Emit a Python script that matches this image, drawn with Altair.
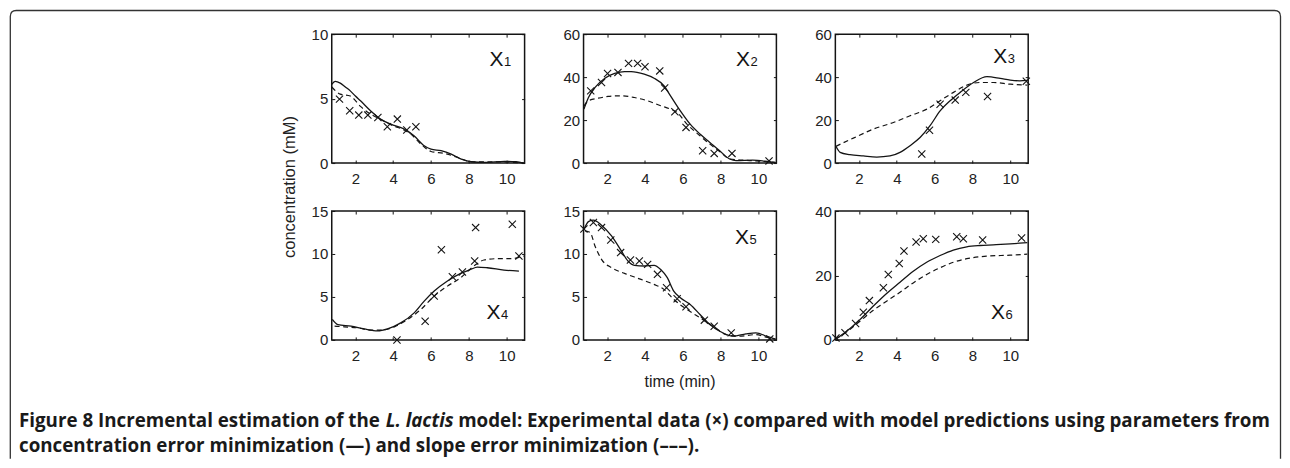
import altair as alt
import pandas as pd

# ---------------- data ----------------
t_domain = [0.75, 10.95]
x_ticks = [2, 4, 6, 8, 10]

# X1
x1_exp_t = [1.16, 1.70, 2.18, 2.66, 3.19, 3.69, 4.22, 4.72, 5.20]
x1_exp_c = [4.96, 4.06, 3.72, 3.72, 3.54, 2.82, 3.41, 2.56, 2.82]
x1_sol_t = [0.75, 0.93, 1.20, 1.47, 1.73, 2.00, 2.27, 2.80, 3.33, 3.87, 4.58, 5.10, 5.64, 6.00, 6.53, 7.07, 7.60, 8.13, 8.84, 9.90, 10.50, 10.90]
x1_sol_c = [6.10, 6.33, 6.20, 5.90, 5.60, 5.20, 4.83, 4.06, 3.41, 3.02, 2.64, 2.12, 1.34, 1.08, 0.96, 0.70, 0.31, 0.10, 0.05, 0.13, 0.10, 0.00]
x1_dash_t = [0.75, 1.20, 1.73, 2.27, 2.80, 3.33, 3.87, 4.58, 4.93, 5.47, 6.00, 6.70, 7.40, 8.13, 9.90, 10.90]
x1_dash_c = [5.90, 5.35, 5.20, 4.40, 3.80, 3.40, 2.97, 2.56, 2.25, 1.47, 0.90, 0.75, 0.44, 0.10, 0.08, 0.00]

# X2
x2_exp_t = [1.13, 1.70, 2.02, 2.57, 3.13, 3.61, 4.00, 4.78, 5.04, 5.58, 6.17, 7.05, 7.66, 8.60, 10.56]
x2_exp_c = [33.6, 37.5, 41.7, 42.2, 46.4, 46.4, 44.8, 42.9, 34.9, 23.9, 16.6, 5.7, 4.5, 4.5, 1.0]
x2_sol_t = [0.77, 1.01, 1.36, 1.88, 2.40, 2.92, 3.27, 3.96, 4.48, 5.00, 5.35, 5.87, 6.39, 6.91, 7.43, 7.95, 8.48, 8.82, 9.70, 10.56, 10.90]
x2_sol_c = [25.1, 30.5, 35.2, 39.5, 41.7, 42.6, 42.6, 41.4, 39.5, 36.0, 31.3, 24.3, 18.1, 13.5, 9.6, 5.7, 1.9, 1.1, 1.4, 0.6, 0.2]
x2_dash_t = [0.77, 1.01, 1.53, 2.05, 2.75, 3.44, 4.13, 4.83, 5.35, 5.70, 6.22, 6.91, 7.43, 7.95, 8.48, 9.70, 10.90]
x2_dash_c = [26.5, 29.0, 30.2, 31.0, 31.3, 30.5, 29.0, 26.7, 25.1, 23.6, 18.1, 12.7, 8.8, 5.4, 1.9, 1.1, 0.3]

# X3
x3_exp_t = [5.32, 5.73, 6.29, 7.09, 7.65, 8.80, 10.85]
x3_exp_c = [4.2, 15.3, 27.4, 29.3, 32.9, 31.0, 38.1]
x3_sol_t = [0.78, 1.00, 1.52, 2.23, 2.94, 3.64, 4.17, 4.70, 5.23, 5.76, 6.29, 6.82, 7.35, 8.06, 8.77, 9.47, 10.00, 10.50, 10.90]
x3_sol_c = [7.8, 5.0, 3.9, 3.3, 2.8, 3.3, 5.0, 8.1, 11.9, 17.4, 24.3, 29.0, 32.9, 37.5, 40.2, 39.4, 38.6, 38.3, 38.5]
x3_dash_t = [0.78, 1.70, 2.76, 3.82, 4.70, 5.59, 6.29, 7.00, 7.71, 8.41, 9.12, 10.00, 10.90]
x3_dash_c = [7.8, 11.6, 15.8, 18.9, 22.0, 25.1, 29.0, 32.9, 36.3, 37.5, 37.5, 36.7, 36.3]

# X4
x4_exp_t = [4.20, 5.69, 6.17, 6.55, 7.13, 7.66, 8.31, 8.36, 10.30, 10.65]
x4_exp_c = [0.00, 2.18, 5.10, 10.50, 7.35, 7.90, 9.18, 13.07, 13.46, 9.77]
x4_sol_t = [0.78, 1.07, 1.77, 2.47, 3.18, 3.70, 4.40, 5.11, 5.64, 6.17, 6.87, 7.57, 8.10, 8.45, 8.98, 9.86, 10.65]
x4_sol_c = [2.40, 1.79, 1.60, 1.28, 1.05, 1.28, 1.98, 3.15, 4.51, 5.68, 6.85, 7.74, 8.20, 8.48, 8.40, 8.13, 8.00]
x4_dash_t = [0.90, 1.42, 2.12, 2.83, 3.35, 4.06, 4.76, 5.46, 6.17, 6.87, 7.57, 8.27, 8.80, 9.50, 10.20, 10.90]
x4_dash_c = [1.60, 1.52, 1.40, 1.13, 1.13, 1.52, 2.37, 3.54, 5.10, 6.26, 7.24, 8.60, 9.30, 9.45, 9.45, 9.77]

# X5
x5_exp_t = [0.77, 1.27, 1.70, 2.19, 2.71, 3.23, 3.70, 4.14, 4.66, 5.14, 5.70, 6.17, 7.14, 7.66, 8.56, 10.60]
x5_exp_c = [12.90, 13.66, 13.07, 11.63, 10.16, 9.30, 9.18, 8.79, 7.63, 6.07, 4.79, 3.85, 2.30, 1.60, 0.82, 0.12]
x5_sol_t = [0.78, 1.01, 1.27, 1.70, 2.23, 2.75, 3.10, 3.44, 3.96, 4.48, 4.83, 5.18, 5.52, 5.87, 6.39, 6.91, 7.43, 7.95, 8.65, 9.34, 9.86, 10.47, 10.90]
x5_sol_c = [12.90, 13.77, 13.93, 13.35, 12.10, 10.35, 9.18, 8.68, 8.60, 8.68, 8.20, 7.24, 5.68, 4.90, 4.12, 2.96, 1.79, 1.01, 0.43, 0.70, 0.82, 0.40, 0.10]
x5_dash_t = [0.83, 1.10, 1.36, 1.70, 2.23, 2.92, 3.79, 4.48, 5.00, 5.52, 6.22, 6.91, 7.60, 8.30, 9.00, 9.86, 10.47, 10.90]
x5_dash_c = [12.70, 12.50, 10.90, 9.38, 8.40, 7.74, 7.04, 6.46, 5.88, 4.71, 3.54, 2.57, 1.60, 0.62, 0.43, 0.62, 0.30, 0.10]

# X6
x6_exp_t = [0.78, 1.26, 1.82, 2.23, 2.55, 3.29, 3.55, 4.13, 4.38, 5.02, 5.40, 6.06, 7.17, 7.52, 8.54, 10.60]
x6_exp_c = [0.6, 2.2, 5.1, 8.6, 12.2, 16.2, 20.3, 23.7, 27.6, 30.4, 31.4, 31.2, 32.0, 31.4, 31.0, 31.6]
x6_sol_t = [0.78, 1.35, 2.05, 2.76, 3.46, 4.17, 4.87, 5.58, 6.29, 6.99, 7.70, 8.40, 9.10, 10.00, 10.90]
x6_sol_c = [0.3, 2.7, 6.3, 10.5, 14.4, 17.9, 21.3, 24.1, 26.2, 27.9, 28.9, 29.3, 29.5, 29.8, 30.2]
x6_dash_t = [0.78, 1.35, 2.05, 2.76, 3.46, 4.17, 4.87, 5.58, 6.29, 6.99, 7.70, 8.75, 10.00, 10.90]
x6_dash_c = [0.3, 2.5, 5.8, 9.2, 12.0, 14.8, 17.7, 20.3, 22.4, 24.1, 25.2, 26.0, 26.3, 26.6]

y_max = [10, 60, 60, 15, 15, 40]
y_ticks = [[0, 5, 10], [0, 20, 40, 60], [0, 20, 40, 60], [0, 5, 10, 15], [0, 5, 10, 15], [0, 20, 40]]
label_t = [9.84, 9.55, 9.84, 9.68, 9.50, 9.72]
label_c = [7.5, 45.1, 46.5, 2.44, 11.2, 6.5]

x_title = "time (min)"
y_title = "concentration (mM)"
caption_a = "Figure 8 Incremental estimation of the"
caption_b = "L. lactis"
caption_c = "model: Experimental data (\u00d7) compared with model predictions using parameters from"
caption_d = "concentration error minimization (\u2014) and slope error minimization (\u2013\u2013\u2013)."

# ---------------- styling / layout ----------------
FONT = "Liberation Sans"
CAP_FONT = "Open Sans"
CAP_SIZE = 18.8
INK = "#141414"
TICK = 3
W, H = 193, 129
COL_GAP, ROW_GAP = 59, 48
P1 = (331, 33)     # page position of panel 1 plot area
P4 = (331, 210)
P5 = (583, 210)
CROSS = "M-1,-1L1,1M-1,1L1,-1"

one = pd.DataFrame({"k": [0]})


def deco_text(text, x, y, size, weight="normal", style="normal", angle=0, align="left", font=CAP_FONT, color="#1a1a1a"):
    return alt.Chart(one).mark_text(
        text=text, font=font, fontSize=size, fontWeight=weight, fontStyle=style,
        angle=angle, align=align, baseline="alphabetic", color=color,
    ).encode(x=alt.value(x), y=alt.value(y))


def panel(num, exp_t, exp_c, sol_t, sol_c, dash_t, dash_c, extras=()):
    i = num - 1
    xs = alt.Scale(domain=t_domain, nice=False, zero=False)
    ys = alt.Scale(domain=[0, y_max[i]], nice=False, zero=False)
    common = dict(title=None, grid=False, domain=False, tickSize=TICK, offset=-TICK,
                  tickColor=INK, tickWidth=1, labelFont=FONT, labelFontSize=15,
                  labelColor="#222")
    ax_b = alt.Axis(orient="bottom", values=x_ticks, labelPadding=8.5, **common)
    ax_l = alt.Axis(orient="left", values=y_ticks[i], labelPadding=4, **common)
    ax_t = alt.Axis(orient="top", values=x_ticks, labels=False, **common)
    ax_r = alt.Axis(orient="right", values=y_ticks[i], labels=False, **common)

    solid = alt.Chart(pd.DataFrame({"t": sol_t, "c": sol_c})).mark_line(
        color=INK, strokeWidth=1.3, interpolate="monotone"
    ).encode(x=alt.X("t:Q", scale=xs, axis=ax_b), y=alt.Y("c:Q", scale=ys, axis=ax_l))
    dashed = alt.Chart(pd.DataFrame({"t": dash_t, "c": dash_c})).mark_line(
        color=INK, strokeWidth=1.2, strokeDash=[5, 3.5], interpolate="monotone"
    ).encode(x=alt.X("t:Q", scale=xs, axis=ax_t), y=alt.Y("c:Q", scale=ys, axis=ax_r))
    crosses = alt.Chart(pd.DataFrame({"t": exp_t, "c": exp_c})).mark_point(
        shape=CROSS, size=52, filled=False, color=INK, strokeWidth=1.1, opacity=1
    ).encode(x=alt.X("t:Q", scale=xs, axis=None), y=alt.Y("c:Q", scale=ys, axis=None))
    lab = pd.DataFrame({"t": [label_t[i]], "c": [label_c[i]], "s": ["X"], "n": [str(num)]})
    big = alt.Chart(lab).mark_text(
        align="right", baseline="alphabetic", font=FONT, fontSize=21, color=INK
    ).encode(x=alt.X("t:Q", scale=xs, axis=None), y=alt.Y("c:Q", scale=ys, axis=None), text="s:N")
    small = alt.Chart(lab).mark_text(
        align="left", baseline="alphabetic", font=FONT, fontSize=13, color=INK, dx=0.5
    ).encode(x=alt.X("t:Q", scale=xs, axis=None), y=alt.Y("c:Q", scale=ys, axis=None), text="n:N")
    layers = [solid, dashed, crosses, big, small] + list(extras)
    return alt.layer(*layers).resolve_axis(x="independent", y="independent").properties(width=W, height=H)


# frame (rounded top corners, open at the bottom) drawn from panel 1
fx, fy = P1
L, T, R, B, r = 9.3 - fx, 9.3 - fy, 1280.5 - fx, 458 - fy, 6
FRAME = (f"M{L},{B}L{L},{T + r}Q{L},{T} {L + r},{T}L{R - r},{T}"
         f"Q{R},{T} {R},{T + r}L{R},{B}")
frame = alt.Chart(one).mark_point(
    shape=FRAME, size=4, filled=False, color="#333", strokeWidth=1.3, opacity=1,
    strokeJoin="round"
).encode(x=alt.value(0), y=alt.value(0))

cx, cy = P4
caption_layers = [
    deco_text(y_title, 294 - cx, 186 - cy, 16.5, angle=270, align="center", font=FONT, color="#222"),
    deco_text(caption_a, 18 - cx, 426 - cy, CAP_SIZE, weight="bold"),
    deco_text(caption_b, 385 - cx, 426 - cy, CAP_SIZE, weight="bold", style="italic"),
    deco_text(caption_c, 457.5 - cx, 426 - cy, CAP_SIZE, weight="bold"),
    deco_text(caption_d, 18 - cx, 451 - cy, CAP_SIZE, weight="bold"),
]
tx, ty = P5
time_layer = [deco_text(x_title, W / 2, 386.5 - ty, 16, align="center", font=FONT, color="#222")]

p1 = panel(1, x1_exp_t, x1_exp_c, x1_sol_t, x1_sol_c, x1_dash_t, x1_dash_c, [frame])
p2 = panel(2, x2_exp_t, x2_exp_c, x2_sol_t, x2_sol_c, x2_dash_t, x2_dash_c)
p3 = panel(3, x3_exp_t, x3_exp_c, x3_sol_t, x3_sol_c, x3_dash_t, x3_dash_c)
p4 = panel(4, x4_exp_t, x4_exp_c, x4_sol_t, x4_sol_c, x4_dash_t, x4_dash_c, caption_layers)
p5 = panel(5, x5_exp_t, x5_exp_c, x5_sol_t, x5_sol_c, x5_dash_t, x5_dash_c, time_layer)
p6 = panel(6, x6_exp_t, x6_exp_c, x6_sol_t, x6_sol_c, x6_dash_t, x6_dash_c)

chart = alt.concat(
    p1, p2, p3, p4, p5, p6, columns=3,
    spacing={"row": ROW_GAP, "column": COL_GAP}, bounds="flush",
).properties(padding=0, background="white").configure_view(stroke=INK, strokeWidth=1.5)

chart.save("out.html", embed_options={"renderer": "svg", "actions": False})
